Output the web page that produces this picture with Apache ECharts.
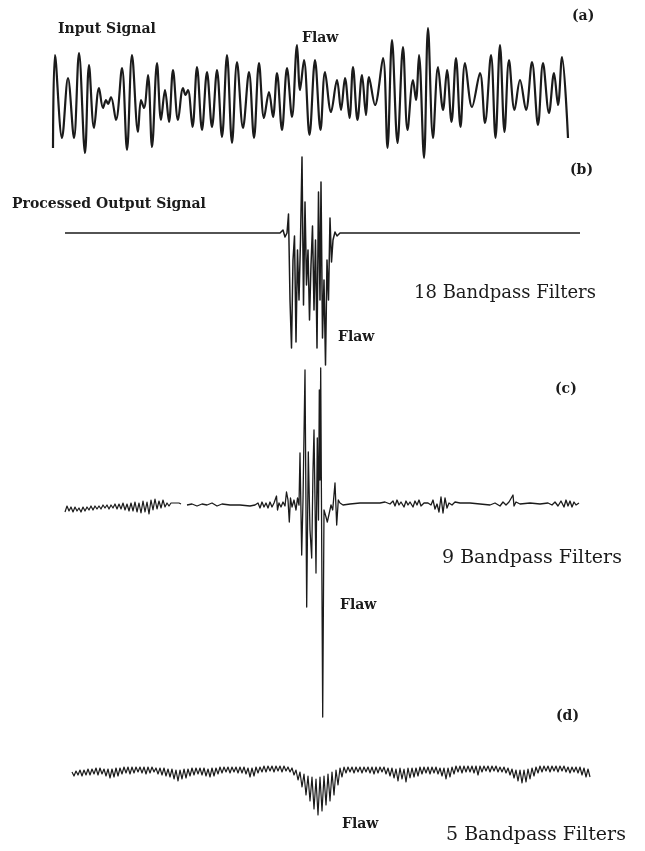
<!DOCTYPE html>
<html>
<head>
<meta charset="utf-8">
<script src="https://cdn.jsdelivr.net/npm/echarts@6/dist/echarts.min.js"></script>
<style>
  html, body { margin: 0; padding: 0; background: #ffffff; }
  #chart { width: 645px; height: 851px; }
</style>
</head>
<body>
<div id="chart"></div>
<script>
// ---- (a) raw input signal: turning points along the scan (sample, amplitude)
const inputPos = [3, 5, 12, 18, 24, 29, 35, 39, 44, 49, 53, 56, 58, 61, 66, 72, 77, 82, 88, 91,
  94, 98, 102, 107, 111, 115, 119, 123, 128, 133, 135.5, 138, 142.5, 147, 152, 157, 162, 167, 172, 177,
  182, 187, 193, 199, 204, 209, 214, 219, 223, 227, 232, 237, 242, 247, 250, 254, 259.5, 265, 270.5, 275,
  281, 287, 291, 295, 299.5, 303, 307.5, 312, 316, 319, 325, 333, 337.5, 342, 347.5, 353, 357.5, 363, 366, 369,
  374, 378, 383, 388, 393, 397, 401.5, 406, 410.5, 415, 422, 430, 435, 441, 445.5, 450, 454.5, 459, 464.5, 470,
  476, 482, 488, 493, 499, 504, 508, 512, 518];
const inputAmp = [-53, 40, -43, 17, -43, 42, -58, 30, -33, 7, -13, -5, -9, -2, -25, 27, -55, 40, -37, -5,
  -13, 20, -52, 32, -25, 5, -27, 25, -25, 7, 0, 5, -32, 28, -35, 23, -32, 25, -42, 40,
  -48, 33, -33, 23, -43, 32, -23, 3, -22, 22, -35, 27, -22, 50, 5, 35, -40, 35, -35, 23,
  -17, 15, -15, 17, -23, 28, -25, 20, -20, 18, -10, 37, -53, 55, -48, 48, -35, 15, -5, 40,
  -63, 67, -43, 28, -15, 25, -27, 37, -32, 32, -12, 22, -28, 40, -43, 50, -37, 35, -15, 15,
  -15, 33, -30, 32, -18, 22, -10, 38, -43];

// ---- (b) output of the 18-filter bank
const out18Pos = [15, 230, 233, 235, 237, 238.5, 240, 241.5, 243, 244.5, 246, 247.5, 249, 250.5, 252, 253.5,
  255, 256.5, 258, 259.5, 261, 262.5, 264, 265.5, 267, 268.5, 270, 271, 272.5, 274, 275.5, 277,
  278.5, 280, 281.5, 283, 285, 287, 290, 530];
const out18Amp = [0, 0, 3, -4, 0, 19, -67, -115, -27, -3, -109, -17, -67, -7, 76, -72,
  31, -52, -17, -87, -32, 7, -77, -7, -115, 41, -67, 51, -105, -47, -132, -27,
  -67, 15, -29, -7, 1, -3, 0, 0];

// ---- (c) output of the 9-filter bank
// leading noisy stretch, one reading every 2 samples from sample 15
const out9NoiseStart = 15;
const out9NoiseStep = 2;
const out9Noise = [-7, -1, -6, -2, -7, -2, -6, -3, -7, -2, -6, -2, -5, -1, -5, -1, -4, -1, -4, 0,
  -3, 0, -4, 0, -3, 1, -4, 1, -4, 2, -5, 1, -6, 2, -6, 3, -7, 2, -8, 4,
  -7, 3, -9, 5, -5, 6, -4, 4, -3, 5, -2, 2, -1, 2, 0, 2, 1, 2, 1];
// remainder of the trace after the break
const out9Pos = [137, 142, 147, 152, 157, 162, 167, 172, 180, 190, 200, 205,
  208, 210, 212, 214, 216, 218, 220, 222, 224, 226.5, 227.5, 229, 231, 233, 235, 236.5, 238, 239.3, 240.5, 242, 244, 246, 247.5,
  249, 250, 251.7, 253, 255, 256.7, 258.3, 260, 261.7, 263, 264, 266, 267.3, 268.5, 269.3, 270, 270.7, 272.7, 274, 276, 277.3, 279.3, 281, 282.7, 285, 286.7, 288.3, 290,
  293, 300, 310, 320, 330, 335, 340, 343, 345, 347, 349, 351, 354, 356, 358, 360, 363, 365, 367, 369, 371, 374, 378, 381, 383, 385, 387, 389, 391, 393, 395, 397, 399,
  402, 405, 410, 420, 430, 440, 445, 450, 453, 456, 459, 461, 463, 464, 466, 470, 480, 490, 498, 502, 505, 508, 511, 514, 516, 518, 520, 522, 524, 526, 529];
const out9Amp = [0, 1, -1, 1, 0, 2, -1, 1, 0, 0, -1, 0,
  2, -3, 3, -2, 2, -3, 3, -2, 2, 9, -5, 2, -2, 3, -1, 13, 5, -17, 7, -2, 5, -5, 7,
  0, 52, -50, 5, 135, -102, 53, -25, -53, 35, 75, -68, 67, -15, 115, 25, 137, -212, -5, -12, -17, -8, 0, -5, 22, -20, 5, 2,
  0, 1, 2, 2, 2, 3, 1, 4, -1, 5, 0, 3, -2, 4, 0, 3, -2, 4, 0, 5, -1, 2, 2, 0, 5, -4, 1, -7, 8, -8, 7, -3, 2,
  0, 3, 2, 2, 1, 0, 2, -1, 3, 0, 3, 1, 10, -1, 3, 1, 2, 1, 2, 0, 3, -1, 4, -2, 5, -1, 4, -2, 3, 0, 2];

// ---- (d) output of the 5-filter bank, one reading every 2 samples from sample 22
const out5Start = 22;
const out5Step = 2;
const out5 = [
  -5, -9, -4, -8, -3, -9, -3, -8, -2, -8, -2, -7, -1, -8, -1, -7, -2, -9, -2, -11,
  -2, -10, -1, -9, -1, -7, 0, -6, 0, -7, 0, -6, 0, -5, 0, -6, 0, -7, 0, -6,
  0, -5, -1, -7, -1, -8, -1, -9, -2, -10, -2, -12, -3, -14, -3, -12, -2, -11, -2, -9,
  -1, -8, -1, -7, -1, -8, -1, -9, -2, -10, -1, -9, -1, -7, 0, -6, 0, -5, 0, -6,
  0, -5, 0, -6, 0, -6, 0, -7, -1, -10, -1, -9, 0, -6, 0, -5, 1, -5, 1, -4,
  1, -5, 1, -4, 1, -5, 1, -4, 0, -5, -1, -8, -3, -13, -5, -20, -7, -28, -9, -34,
  -10, -42, -12, -48, -10, -44, -9, -38, -7, -34, -5, -28, -3, -18, -1, -10, 0, -6, 0, -5,
  0, -6, 0, -5, 0, -6, 0, -5, 0, -6, 0, -7, 0, -6, 0, -5, 0, -7, -1, -9,
  -1, -11, -2, -14, -1, -12, -2, -15, -1, -11, -1, -10, -1, -9, 0, -7, 0, -6, 0, -7,
  0, -6, 0, -7, -1, -9, -1, -12, -1, -10, 0, -7, 1, -5, 1, -6, 1, -5, 1, -5,
  1, -6, 1, -8, 1, -5, 1, -4, 1, -5, 1, -4, 1, -5, 0, -5, 0, -6, -1, -8,
  -2, -11, -3, -14, -3, -16, -3, -15, -2, -12, -1, -9, 0, -6, 1, -5, 1, -4, 1, -5,
  1, -4, 1, -5, 1, -4, 1, -5, 0, -6, 0, -5, 0, -6, 0, -8, -1, -10, -2, -10];

// ---- text
const panelTags = ['(a)', '(b)', '(c)', '(d)'];
const flawLabel = 'Flaw';
const inputTitle = 'Input Signal';
const outputTitle = 'Processed Output Signal';
const bankLabels = ['18 Bandpass Filters', '9 Bandpass Filters', '5 Bandpass Filters'];

const pairs = (xs, ys) => xs.map((x, i) => [x, ys[i]]);
const uniform = (start, step, ys) => ys.map((y, i) => [start + i * step, y]);

const ink = '#1b1b1b';
const boldFont = 'bold 14px "DejaVu Serif", serif';
const bankFont18 = '18px "DejaVu Serif", serif';
const bankFont = '19px "DejaVu Serif", serif';

const panels = [
  { top: 20,  height: 150, min: -75,  max: 75 },
  { top: 143, height: 240, min: -150, max: 90 },
  { top: 355, height: 370, min: -220, max: 150 },
  { top: 747, height: 75,  min: -55,  max: 20 }
];

const grid = panels.map(p => ({ left: 50, right: 55, top: p.top, height: p.height }));
const xAxis = panels.map((p, i) => ({ type: 'value', gridIndex: i, min: 0, max: 540, show: false }));
const yAxis = panels.map((p, i) => ({ type: 'value', gridIndex: i, min: p.min, max: p.max, show: false }));

const lineSeries = (idx, data, width, smooth) => ({
  type: 'line', xAxisIndex: idx, yAxisIndex: idx, data: data,
  showSymbol: false, smooth: smooth, silent: true,
  lineStyle: { color: ink, width: width, join: 'round' }
});

const label = (text, left, top, font) => ({
  type: 'text', left: left, top: top, silent: true,
  style: { text: text, font: font, fill: ink }
});

const chart = echarts.init(document.getElementById('chart'), null, { renderer: 'canvas' });
chart.setOption({
  backgroundColor: '#ffffff',
  animation: false,
  grid: grid,
  xAxis: xAxis,
  yAxis: yAxis,
  series: [
    lineSeries(0, pairs(inputPos, inputAmp), 2.2, 0.35),
    lineSeries(1, pairs(out18Pos, out18Amp), 1.5, false),
    lineSeries(2, uniform(out9NoiseStart, out9NoiseStep, out9Noise), 1.2, false),
    lineSeries(2, pairs(out9Pos, out9Amp), 1.3, false),
    lineSeries(3, uniform(out5Start, out5Step, out5), 1.2, false)
  ],
  graphic: [
    label(inputTitle, 58, 22, boldFont),
    label(flawLabel, 302, 31, boldFont),
    label(panelTags[0], 572, 9, boldFont),
    label(panelTags[1], 570, 163, boldFont),
    label(outputTitle, 12, 197, boldFont),
    label(bankLabels[0], 414, 284, bankFont18),
    label(flawLabel, 338, 330, boldFont),
    label(panelTags[2], 555, 382, boldFont),
    label(bankLabels[1], 442, 549, bankFont),
    label(flawLabel, 340, 598, boldFont),
    label(panelTags[3], 556, 709, boldFont),
    label(flawLabel, 342, 817, boldFont),
    label(bankLabels[2], 446, 826, bankFont)
  ]
});
</script>
</body>
</html>
